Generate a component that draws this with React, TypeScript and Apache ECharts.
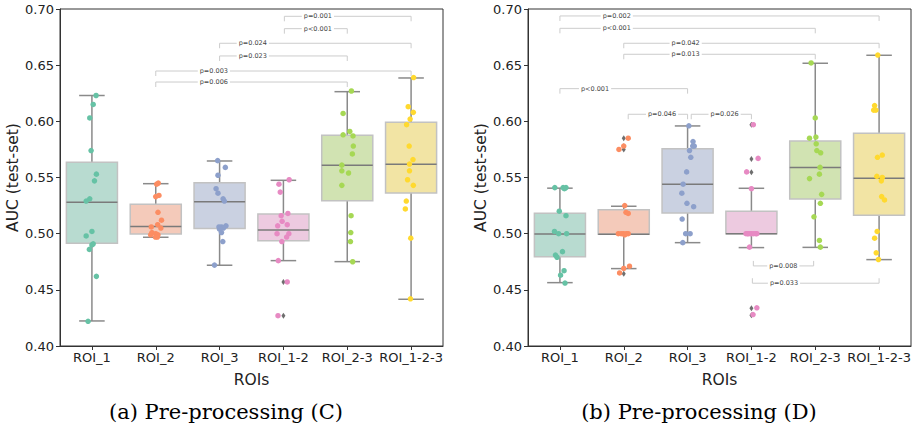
import React, { useEffect, useRef } from "react";
import * as echarts from "echarts";

const CATS = ["ROI_1", "ROI_2", "ROI_3", "ROI_1-2", "ROI_2-3", "ROI_1-2-3"];
const COLORS = ["#66c2a5", "#fc8d62", "#8da0cb", "#e78ac3", "#a6d854", "#ffd92f"];
const Y_TICKS = [0.4, 0.7, 0.05];

// Panel (a) Pre-processing (C): per-ROI AUC points
const C_POINTS: number[][] = [
  [0.623, 0.615, 0.603, 0.574, 0.553, 0.547, 0.531, 0.529, 0.502, 0.498, 0.491, 0.49, 0.486, 0.462, 0.422],
  [0.545, 0.544, 0.534, 0.533, 0.519, 0.512, 0.508, 0.506, 0.505, 0.501, 0.5, 0.499, 0.499, 0.497, 0.497],
  [0.565, 0.559, 0.552, 0.54, 0.536, 0.531, 0.529, 0.507, 0.506, 0.506, 0.505, 0.504, 0.501, 0.493, 0.472],
  [0.548, 0.544, 0.537, 0.518, 0.516, 0.511, 0.508, 0.507, 0.5, 0.5, 0.497, 0.493, 0.476, 0.457, 0.427],
  [0.627, 0.607, 0.591, 0.588, 0.587, 0.578, 0.571, 0.561, 0.556, 0.554, 0.543, 0.516, 0.501, 0.493, 0.475],
  [0.639, 0.613, 0.608, 0.602, 0.597, 0.578, 0.566, 0.562, 0.556, 0.548, 0.543, 0.529, 0.522, 0.496, 0.442],
];
const C_JITTER: number[][] = [
  [0.065, 0.02, -0.034, -0.013, 0.07, 0.04, -0.034, -0.09, 0, -0.09, 0.02, 0.0, -0.04, 0.07, -0.06],
  [0.04, 0.015, 0.05, 0, 0.035, 0.09, 0.03, -0.07, 0.08, -0.06, 0, 0.035, -0.08, -0.005, 0.025],
  [-0.03, 0.09, -0.025, -0.055, -0.025, 0.055, 0.075, 0.1, 0.03, -0.01, 0.06, 0, 0.03, 0.05, -0.08],
  [0.09, -0.07, -0.05, 0.07, -0.035, -0.02, 0.06, -0.09, -0.1, 0.085, 0.05, -0.025, -0.08, 0.06, -0.085],
  [0.065, -0.065, 0.04, -0.065, 0.09, 0.095, 0.08, -0.085, -0.085, 0.02, -0.085, 0.06, 0.055, 0.05, 0.085],
  [0.04, -0.045, 0.035, -0.015, -0.07, -0.03, 0.03, -0.025, -0.025, -0.055, 0.035, -0.075, -0.09, -0.005, -0.01],
];
// [low whisker, Q1, median, Q3, high whisker]
const C_BOX: number[][] = [
  [0.4223, 0.4914, 0.528, 0.5635, 0.623],
  [0.4968, 0.4998, 0.5063, 0.5262, 0.5445],
  [0.4719, 0.5045, 0.5285, 0.5454, 0.5647],
  [0.476, 0.4938, 0.5033, 0.5176, 0.5475],
  [0.4751, 0.5294, 0.561, 0.5876, 0.6264],
  [0.4416, 0.5362, 0.5617, 0.5991, 0.6386],
];
const C_OUTLIERS: number[][] = [[3, 0.457], [3, 0.427]];
// [from, to, level]
const C_BRACKETS: number[][] = [
  [3.015, 5, 0.6935],
  [3.015, 4, 0.6825],
  [2, 5, 0.6695],
  [2, 4, 0.6582],
  [1, 5, 0.6448],
  [1, 4, 0.635],
];
const C_PVALUES = ["p=0.001", "p<0.001", "p=0.024", "p=0.023", "p=0.003", "p=0.006"];

// Panel (b) Pre-processing (D)
const D_POINTS: number[][] = [
  [0.541, 0.541, 0.541, 0.54, 0.52, 0.516, 0.502, 0.5, 0.5, 0.484, 0.481, 0.479, 0.467, 0.463, 0.456],
  [0.585, 0.578, 0.575, 0.525, 0.519, 0.518, 0.5, 0.5, 0.5, 0.5, 0.499, 0.5, 0.471, 0.469, 0.465],
  [0.596, 0.582, 0.578, 0.578, 0.574, 0.568, 0.555, 0.544, 0.536, 0.527, 0.524, 0.513, 0.5, 0.5, 0.492],
  [0.597, 0.567, 0.555, 0.54, 0.5, 0.5, 0.5, 0.5, 0.5, 0.5, 0.5, 0.5, 0.488, 0.434, 0.428],
  [0.652, 0.603, 0.586, 0.585, 0.58, 0.574, 0.572, 0.559, 0.553, 0.549, 0.535, 0.527, 0.515, 0.494, 0.488],
  [0.659, 0.614, 0.61, 0.61, 0.57, 0.568, 0.551, 0.55, 0.547, 0.533, 0.53, 0.502, 0.496, 0.483, 0.477],
];
const D_JITTER: number[][] = [
  [-0.08, 0.05, 0.095, 0.07, -0.01, 0.095, -0.085, -0.02, 0.105, 0.04, -0.07, -0.045, 0.065, 0.01, 0.08],
  [0.07, 0, -0.075, 0.015, 0.035, 0.07, -0.085, -0.005, 0.04, 0.07, 0.015, -0.04, 0.09, 0, -0.065],
  [0.02, 0.085, 0.08, 0.105, 0.03, 0.05, -0.015, -0.07, -0.09, -0.01, 0.095, -0.085, -0.03, 0.04, -0.075],
  [0.03, 0.105, -0.075, 0, -0.085, -0.05, 0, 0.07, 0.085, -0.02, 0.035, -0.06, -0.03, 0.085, 0.025],
  [-0.065, 0, 0.01, -0.09, 0.015, 0.025, 0.085, 0.075, 0.065, -0.09, 0.1, 0.08, -0.02, 0.065, 0.08],
  [-0.02, -0.07, -0.085, -0.05, 0.05, -0.025, -0.035, 0.05, 0.035, 0.04, 0.085, -0.03, -0.07, -0.045, -0.01],
];
const D_BOX: number[][] = [
  [0.4564, 0.4795, 0.4998, 0.5182, 0.5405],
  [0.4689, 0.4995, 0.4995, 0.5214, 0.5244],
  [0.492, 0.5184, 0.544, 0.5757, 0.5959],
  [0.4876, 0.5, 0.5, 0.52, 0.5404],
  [0.4878, 0.5309, 0.5588, 0.5825, 0.6517],
  [0.4769, 0.5164, 0.5493, 0.5893, 0.6588],
];
const D_OUTLIERS: number[][] = [
  [1, 0.585], [1, 0.5778], [1, 0.575], [1, 0.4644],
  [3, 0.597], [3, 0.5665], [3, 0.5546], [3, 0.4336], [3, 0.4274],
];
const D_BRACKETS: number[][] = [
  [0, 5, 0.6938],
  [0, 4, 0.6828],
  [1, 5, 0.6695],
  [1, 4, 0.6597],
  [0, 2, 0.6291],
  [1.07, 2, 0.6063],
  [2.057, 3, 0.6063],
  [3.03, 3.975, 0.4713],
  [3.015, 5, 0.4559],
];
const D_PVALUES = ["p=0.002", "p<0.001", "p=0.042", "p=0.013", "p<0.001", "p=0.046", "p=0.026", "p=0.008", "p=0.033"];

// layout: label x (category units) and tick direction for each bracket
const C_LABEL_X = [3.54, 3.54, 2.52, 2.52, 1.91, 1.91];
const C_TICK_DIR = [1, 1, 1, 1, 1, 1];
const D_LABEL_X = [0.89, 0.89, 1.97, 1.97, 0.55, 1.6, 2.58, 3.5, 3.51];
const D_TICK_DIR = [1, 1, 1, 1, 1, 1, 1, -1, -1];

function desat(hex: string, s: number, alpha: number): string {
  const r = parseInt(hex.slice(1, 3), 16) / 255;
  const g = parseInt(hex.slice(3, 5), 16) / 255;
  const b = parseInt(hex.slice(5, 7), 16) / 255;
  const mx = Math.max(r, g, b), mn = Math.min(r, g, b);
  const l = (mx + mn) / 2;
  const sat = (mx - mn) / (l > 0.5 ? 2 - mx - mn : mx + mn);
  const c = (1 - Math.abs(2 * l - 1)) * sat * s;
  const nmn = l - c / 2;
  const f = (v: number) => nmn + ((v - mn) / (mx - mn)) * c;
  const mix = (v: number) => Math.round((f(v) * alpha + (1 - alpha)) * 255);
  return `rgb(${mix(r)},${mix(g)},${mix(b)})`;
}
const FILLS = COLORS.map((c) => desat(c, 0.75, 0.5));
const WHISKER = "#8a8a8a";
const BOX_EDGE = "#c2c2c2";
const P_TEXT = "#444444";

function boxRender(params: any, api: any) {
  const i = api.value(0);
  const low = api.coord([i, api.value(1)]);
  const q1 = api.coord([i, api.value(2)]);
  const med = api.coord([i, api.value(3)]);
  const q3 = api.coord([i, api.value(4)]);
  const high = api.coord([i, api.value(5)]);
  const w = api.size([0.8, 0])[0];
  const cx = low[0];
  const ls = { stroke: WHISKER, lineWidth: 1.5 };
  return {
    type: "group",
    children: [
      { type: "line", shape: { x1: cx, y1: q3[1], x2: cx, y2: high[1] }, style: ls },
      { type: "line", shape: { x1: cx, y1: q1[1], x2: cx, y2: low[1] }, style: ls },
      { type: "line", shape: { x1: cx - w / 4, y1: high[1], x2: cx + w / 4, y2: high[1] }, style: ls },
      { type: "line", shape: { x1: cx - w / 4, y1: low[1], x2: cx + w / 4, y2: low[1] }, style: ls },
      {
        type: "rect",
        shape: { x: cx - w / 2, y: q3[1], width: w, height: q1[1] - q3[1] },
        style: { fill: FILLS[i], stroke: BOX_EDGE, lineWidth: 1.5 },
      },
      { type: "line", shape: { x1: cx - w / 2, y1: med[1], x2: cx + w / 2, y2: med[1] }, style: { stroke: "#7a7a7a", lineWidth: 1.5 } },
    ],
  };
}

function makeBracketRender(labels: string[], labelX: number[], dirs: number[]) {
  return (params: any, api: any) => {
    const k = params.dataIndex;
    const lv = api.value(2);
    const a = api.coord([api.value(0), lv]);
    const b = api.coord([api.value(1), lv]);
    const t = api.coord([labelX[k], lv]);
    const tk = 5 * dirs[k];
    return {
      type: "group",
      children: [
        {
          type: "polyline",
          shape: { points: [[a[0], a[1] + tk], [a[0], a[1]], [b[0], b[1]], [b[0], b[1] + tk]] },
          style: { stroke: "#cccccc", lineWidth: 1, fill: "none" },
        },
        {
          type: "text",
          x: t[0],
          y: t[1],
          style: {
            text: labels[k],
            fill: P_TEXT,
            textFill: P_TEXT,
            font: "6.5px 'DejaVu Sans'",
            align: "center",
            verticalAlign: "middle",
            backgroundColor: "#fff",
            padding: [0, 2],
          },
        },
      ],
    };
  };
}

function panelSeries(
  gi: number,
  points: number[][],
  jitter: number[][],
  box: number[][],
  outliers: number[][],
  brackets: number[][],
  labels: string[],
  labelX: number[],
  dirs: number[]
) {
  const xv = gi * 2 + 1;
  const series: any[] = [];
  series.push({
    type: "custom",
    xAxisIndex: xv,
    yAxisIndex: gi,
    renderItem: boxRender,
    itemStyle: { color: WHISKER },
    data: box.map((b, i) => [i, ...b]),
    z: 1,
  });
  series.push({
    type: "scatter",
    xAxisIndex: xv,
    yAxisIndex: gi,
    symbol: "diamond",
    symbolSize: [4, 6],
    itemStyle: { color: "#4a4a4a" },
    data: outliers,
    z: 2,
  });
  points.forEach((vals, i) => {
    series.push({
      type: "scatter",
      xAxisIndex: xv,
      yAxisIndex: gi,
      symbolSize: 5.5,
      itemStyle: { color: COLORS[i], opacity: 1 },
      data: vals.map((v, j) => [i + jitter[i][j], v]),
      z: 3,
    });
  });
  series.push({
    type: "custom",
    xAxisIndex: xv,
    yAxisIndex: gi,
    renderItem: makeBracketRender(labels, labelX, dirs),
    itemStyle: { color: P_TEXT },
    data: brackets,
    z: 4,
  });
  return series;
}

const FONT = "DejaVu Sans";

function makeAxes(gi: number) {
  const xCat = {
    type: "category",
    gridIndex: gi,
    data: CATS,
    boundaryGap: true,
    axisLine: { show: true, onZero: false, lineStyle: { color: "#333", width: 1 } },
    axisTick: { show: true, alignWithLabel: true, length: 4, lineStyle: { color: "#333" } },
    axisLabel: { fontSize: 13, color: "#222", fontFamily: FONT, margin: 5, interval: 0 },
    name: "ROIs",
    nameLocation: "middle",
    nameGap: 26,
    nameTextStyle: { fontSize: 15.5, color: "#222", fontFamily: FONT },
    splitLine: { show: false },
  };
  const xVal = {
    type: "value",
    gridIndex: gi,
    min: -0.5,
    max: 5.5,
    show: false,
    axisLine: { onZero: false },
    splitLine: { show: false },
  };
  return [xCat, xVal];
}

function makeY(gi: number) {
  return {
    type: "value",
    gridIndex: gi,
    min: Y_TICKS[0],
    max: Y_TICKS[1],
    interval: Y_TICKS[2],
    axisLine: { show: true, onZero: false, lineStyle: { color: "#333", width: 1 } },
    axisTick: { show: true, length: 4, lineStyle: { color: "#333" } },
    axisLabel: { fontSize: 13, color: "#222", fontFamily: FONT, margin: 6, formatter: (v: number) => v.toFixed(2) },
    splitLine: { show: false },
    name: "AUC (test-set)",
    nameLocation: "middle",
    nameGap: 38,
    nameTextStyle: { fontSize: 15.5, color: "#222", fontFamily: FONT },
  };
}

export default function App() {
  const ref = useRef<HTMLDivElement>(null);
  useEffect(() => {
    if (!ref.current) return;
    const chart = echarts.init(ref.current, undefined, { renderer: "svg" });
    chart.setOption({
      animation: false,
      backgroundColor: "#fff",
      textStyle: { fontFamily: FONT },
      grid: [
        { left: 60, top: 9, width: 383, height: 337, show: true, borderColor: "#333", borderWidth: 1, backgroundColor: "transparent" },
        { left: 528, top: 9, width: 383, height: 337, show: true, borderColor: "#333", borderWidth: 1, backgroundColor: "transparent" },
      ],
      xAxis: [...makeAxes(0), ...makeAxes(1)],
      yAxis: [makeY(0), makeY(1)],
      series: [
        ...panelSeries(0, C_POINTS, C_JITTER, C_BOX, C_OUTLIERS, C_BRACKETS, C_PVALUES, C_LABEL_X, C_TICK_DIR),
        ...panelSeries(1, D_POINTS, D_JITTER, D_BOX, D_OUTLIERS, D_BRACKETS, D_PVALUES, D_LABEL_X, D_TICK_DIR),
      ],
      graphic: [
        {
          type: "text",
          x: 226,
          y: 412,
          style: { text: "(a) Pre-processing (C)", font: "21px 'DejaVu Serif'", fill: "#000", align: "center", verticalAlign: "middle" },
        },
        {
          type: "text",
          x: 699,
          y: 412,
          style: { text: "(b) Pre-processing (D)", font: "21px 'DejaVu Serif'", fill: "#000", align: "center", verticalAlign: "middle" },
        },
      ],
    });
    return () => chart.dispose();
  }, []);
  return (
    <div
      ref={ref}
      style={{ position: "fixed", left: 0, top: 0, width: 916, height: 432, background: "#fff" }}
    />
  );
}
